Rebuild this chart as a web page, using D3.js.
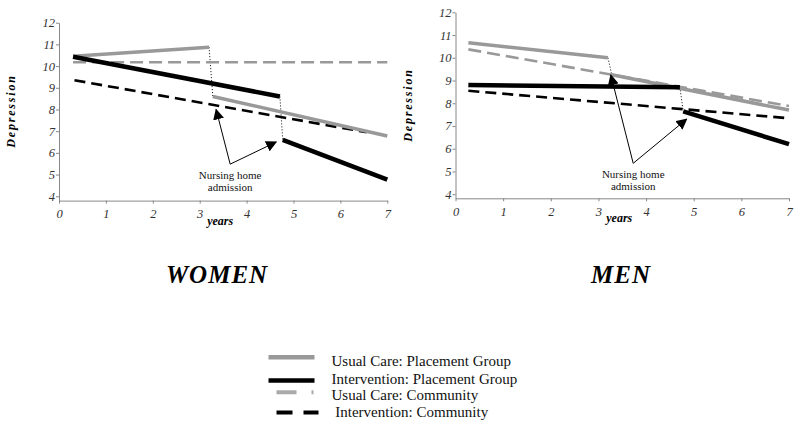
<!DOCTYPE html>
<html>
<head>
<meta charset="utf-8">
<script src="https://cdn.jsdelivr.net/npm/d3@7"></script>
<style>
  body { margin: 0; background: #fff; }
  svg { display: block; }
  svg text { font-family: "Liberation Serif", "Times New Roman", serif; }
</style>
</head>
<body>
<svg width="800" height="429"></svg>
<script>
// ---- data (years, depression score) ----
const yearTicks = [0, 1, 2, 3, 4, 5, 6, 7];
const depTicks = [4, 5, 6, 7, 8, 9, 10, 11, 12];

// women
const womenUsualPlaceBefore = [[0.3, 10.45], [3.2, 10.87]];
const womenUsualPlaceAfter = [[3.28, 8.6], [7, 6.78]];
const womenIntPlaceBefore = [[0.3, 10.43], [4.71, 8.6]];
const womenIntPlaceAfter = [[4.77, 6.6], [7, 4.77]];
const womenUsualComm = [[0.3, 10.18], [7, 10.18]];
const womenIntComm = [[0.33, 9.35], [6.56, 6.95]];
const womenArrowFrom = [3.65, 5.48];
const womenArrowTo = [[3.35, 8.0], [4.63, 6.5]];

// men
const menUsualPlaceBefore = [[0.27, 10.66], [3.2, 10.0]];
const menUsualPlaceAfter = [[3.28, 9.25], [7, 7.7]];
const menIntPlaceBefore = [[0.27, 8.8], [4.71, 8.7]];
const menIntPlaceAfter = [[4.78, 7.64], [7, 6.2]];
const menUsualComm = [[0.27, 10.37], [7, 7.88]];
const menIntComm = [[0.27, 8.55], [7, 7.34]];
const menArrowFrom = [3.73, 5.36];
const menArrowTo = [[3.26, 9.24], [4.85, 7.3]];

const legendLabels = [
  "Usual Care: Placement Group",
  "Intervention: Placement Group",
  "Usual Care: Community",
  " Intervention: Community"
];

const serif = "'Liberation Serif', 'Times New Roman', serif";
const svg = d3.select("svg");

// arrowhead marker
svg.append("defs").append("marker")
    .attr("id", "head")
    .attr("viewBox", "0 0 10 10")
    .attr("refX", 9).attr("refY", 5)
    .attr("markerWidth", 11).attr("markerHeight", 11)
    .attr("markerUnits", "userSpaceOnUse")
    .attr("orient", "auto")
  .append("path")
    .attr("d", "M0,0 L10,5 L0,10 z")
    .attr("fill", "#000");

const styles = {
  usualPlace: { stroke: "#999", width: 3.5, dash: null },
  intPlace: { stroke: "#000", width: 4.5, dash: null },
  usualComm: { stroke: "#999", width: 2.6, dash: "13,6" },
  intComm: { stroke: "#000", width: 2.6, dash: "11,6" }
};

function drawPanel(p) {
  const x = d3.scaleLinear().domain([0, 7]).range(p.xr);
  const y = d3.scaleLinear().domain(p.yd).range(p.yr);
  const g = svg.append("g");

  // axes
  const xAxis = g.append("g")
      .attr("transform", `translate(0,${p.yr[0]})`)
      .call(d3.axisBottom(x).tickValues(yearTicks).tickFormat(d3.format("d"))
        .tickSize(3).tickSizeOuter(0));
  const yAxis = g.append("g")
      .attr("transform", `translate(${p.xr[0]},0)`)
      .call(d3.axisLeft(y).tickValues(depTicks).tickFormat(d3.format("d"))
        .tickSize(3).tickSizeOuter(0));
  [xAxis, yAxis].forEach(a => {
    a.attr("font-family", serif);
    a.select(".domain").attr("stroke", "#888");
    a.selectAll(".tick line").attr("stroke", "#888");
    a.selectAll("text")
      .attr("fill", "#333")
      .style("font-size", "12.5px")
      .style("font-style", "italic")
      .style("font-family", serif);
  });
  xAxis.selectAll("text").attr("dy", "0.95em");
  yAxis.selectAll("text").attr("x", -4);

  g.append("text")
      .attr("x", (p.xr[0] + p.xr[1]) / 2 - 3)
      .attr("y", p.yr[0] + 24)
      .attr("text-anchor", "middle")
      .style("font-size", "12px")
      .style("font-style", "italic")
      .style("font-weight", "bold")
      .text("years");

  g.append("text")
      .attr("transform", `translate(${p.ylabX},${p.ylabY}) rotate(-90)`)
      .attr("text-anchor", "middle")
      .style("font-size", "12px")
      .style("font-style", "italic")
      .style("font-weight", "bold")
      .style("letter-spacing", "1.8px")
      .text("Depression");

  const line = d3.line().x(d => x(d[0])).y(d => y(d[1]));

  // dotted connectors at nursing home admission
  [[p.usualPlaceBefore, p.usualPlaceAfter], [p.intPlaceBefore, p.intPlaceAfter]].forEach(([a, b]) => {
    g.append("path")
        .attr("d", line([a[a.length - 1], b[0]]))
        .attr("fill", "none")
        .attr("stroke", "#000")
        .attr("stroke-width", 1)
        .attr("stroke-dasharray", "1,2");
  });

  const series = [
    [p.usualComm, styles.usualComm],
    [p.intComm, styles.intComm],
    [p.usualPlaceBefore, styles.usualPlace],
    [p.usualPlaceAfter, styles.usualPlace],
    [p.intPlaceBefore, styles.intPlace],
    [p.intPlaceAfter, styles.intPlace]
  ];
  series.forEach(([d, s]) => {
    g.append("path")
        .attr("d", line(d))
        .attr("fill", "none")
        .attr("stroke", s.stroke)
        .attr("stroke-width", s.width)
        .attr("stroke-dasharray", s.dash);
  });

  // annotation arrows
  p.arrowTo.forEach(t => {
    g.append("line")
        .attr("x1", x(p.arrowFrom[0])).attr("y1", y(p.arrowFrom[1]))
        .attr("x2", x(t[0])).attr("y2", y(t[1]))
        .attr("stroke", "#000")
        .attr("stroke-width", 1)
        .attr("marker-end", "url(#head)");
  });
  const note = g.append("text")
      .attr("text-anchor", "middle")
      .style("font-size", "11px")
      .attr("fill", "#111");
  note.append("tspan").attr("x", x(p.arrowFrom[0])).attr("y", y(p.arrowFrom[1]) + 15).text("Nursing home");
  note.append("tspan").attr("x", x(p.arrowFrom[0])).attr("y", y(p.arrowFrom[1]) + 27).text("admission");

  // panel title
  svg.append("text")
      .attr("x", p.titleX)
      .attr("y", 283)
      .attr("text-anchor", "middle")
      .style("font-size", "25px")
      .style("font-style", "italic")
      .style("font-weight", "bold")
      .style("letter-spacing", "1px")
      .text(p.title);
}

drawPanel({
  xr: [59, 387.3], yd: [3.8, 12], yr: [200.6, 22.7],
  ylabX: 15, ylabY: 111, titleX: 217, title: "WOMEN",
  usualPlaceBefore: womenUsualPlaceBefore, usualPlaceAfter: womenUsualPlaceAfter,
  intPlaceBefore: womenIntPlaceBefore, intPlaceAfter: womenIntPlaceAfter,
  usualComm: womenUsualComm, intComm: womenIntComm,
  arrowFrom: womenArrowFrom, arrowTo: womenArrowTo
});

drawPanel({
  xr: [455.5, 789], yd: [3.82, 12], yr: [198.3, 12.3],
  ylabX: 412, ylabY: 105, titleX: 621, title: "MEN",
  usualPlaceBefore: menUsualPlaceBefore, usualPlaceAfter: menUsualPlaceAfter,
  intPlaceBefore: menIntPlaceBefore, intPlaceAfter: menIntPlaceAfter,
  usualComm: menUsualComm, intComm: menIntComm,
  arrowFrom: menArrowFrom, arrowTo: menArrowTo
});

// legend
const legendKeys = [styles.usualPlace, styles.intPlace, styles.usualComm, styles.intComm];
const legendDash = [null, null, "20,15,2,20", "16,11"];
const legendWidth = [4.5, 4.5, 4, 4];
const legendLineY = [357.3, 380.5, 392.3, 412.5];
const legendTextY = [365.5, 383.5, 400, 416.5];
const legend = svg.append("g");
legendKeys.forEach((s, i) => {
  legend.append("line")
      .attr("x1", i >= 2 ? 276.5 : 268.5).attr("x2", i >= 2 ? (i === 3 ? 318.5 : 314) : 314.5)
      .attr("y1", legendLineY[i]).attr("y2", legendLineY[i])
      .attr("stroke", i === 2 ? "#aaa" : s.stroke)
      .attr("stroke-width", legendWidth[i])
      .attr("stroke-dasharray", legendDash[i]);
  legend.append("text")
      .attr("x", 331.5)
      .attr("y", legendTextY[i])
      .attr("xml:space", "preserve")
      .style("white-space", "pre")
      .style("font-size", "15px")
      .attr("fill", "#111")
      .text(legendLabels[i]);
});
</script>
</body>
</html>
